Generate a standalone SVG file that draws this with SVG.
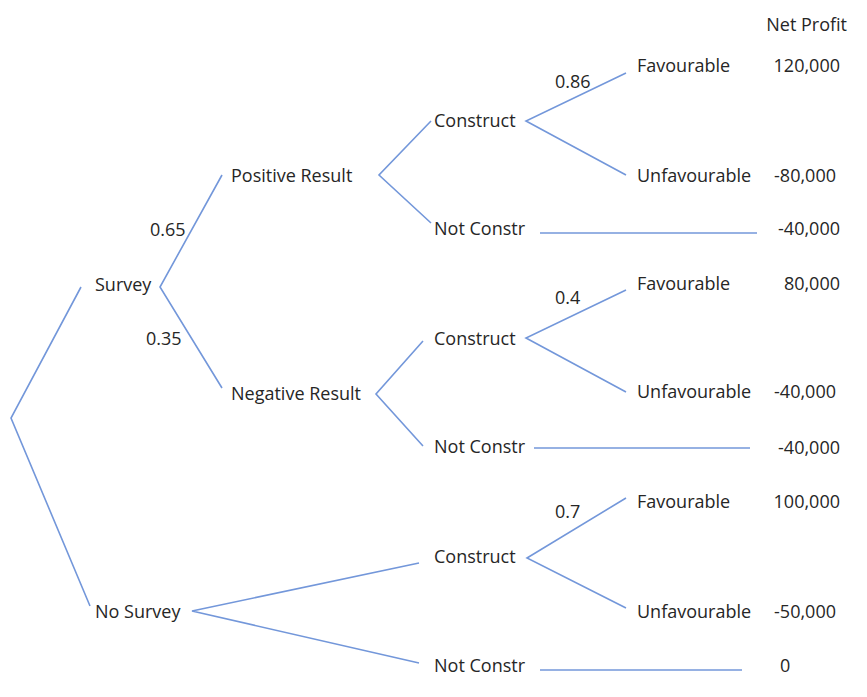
<svg xmlns="http://www.w3.org/2000/svg" width="867" height="697" viewBox="0 0 867 697">
<style>
text{font-family:"Open Sans","Liberation Sans",sans-serif;font-size:18px;fill:#262626}
.e{text-anchor:end}
#connectors line,#connectors polyline{stroke:#7397DA;stroke-width:1.6;fill:none}
</style>
<rect width="867" height="697" fill="#fff"/>
<g id="connectors">
<polyline points="81,287 11,418 90,606"/>
<polyline points="222,175 160,287 222,388"/>
<polyline points="431,121 379,175 431,223"/>
<polyline points="626,73 526,121 626,175"/>
<line x1="540" y1="233" x2="757" y2="233"/>
<polyline points="423,341 376,394 423,446"/>
<polyline points="626,290 526,338 626,392"/>
<line x1="534" y1="448" x2="750" y2="448"/>
<polyline points="419,563 192,611 419,663"/>
<polyline points="626,498 527,558 626,608"/>
<line x1="540" y1="670" x2="742" y2="670"/>
</g>
<g id="header"><text class="e" x="847" y="31">Net Profit</text></g>
<g id="survey"><text x="95" y="291">Survey</text></g>
<g id="p065"><text x="150" y="236">0.65</text></g>
<g id="p035"><text x="146" y="345">0.35</text></g>
<g id="positive"><text x="231" y="182">Positive Result</text></g>
<g id="negative"><text x="231" y="400">Negative Result</text></g>
<g id="nosurvey"><text x="95" y="618">No Survey</text></g>
<g id="pos-construct"><text x="434" y="127">Construct</text></g>
<g id="pos-notconstr"><text x="434" y="235">Not Constr</text></g>
<g id="p086"><text x="555" y="88">0.86</text></g>
<g id="pos-fav"><text x="637" y="72">Favourable</text><text class="e" x="840" y="72">120,000</text></g>
<g id="pos-unfav"><text x="637" y="182">Unfavourable</text><text class="e" x="836" y="182">-80,000</text></g>
<g id="pos-nc-val"><text class="e" x="840" y="235">-40,000</text></g>
<g id="neg-construct"><text x="434" y="345">Construct</text></g>
<g id="neg-notconstr"><text x="434" y="453">Not Constr</text></g>
<g id="p04"><text x="555" y="304">0.4</text></g>
<g id="neg-fav"><text x="637" y="290">Favourable</text><text class="e" x="840" y="290">80,000</text></g>
<g id="neg-unfav"><text x="637" y="398">Unfavourable</text><text class="e" x="836" y="398">-40,000</text></g>
<g id="neg-nc-val"><text class="e" x="840" y="454">-40,000</text></g>
<g id="ns-construct"><text x="434" y="563">Construct</text></g>
<g id="ns-notconstr"><text x="434" y="672">Not Constr</text></g>
<g id="p07"><text x="555" y="518">0.7</text></g>
<g id="ns-fav"><text x="637" y="508">Favourable</text><text class="e" x="840" y="508">100,000</text></g>
<g id="ns-unfav"><text x="637" y="618">Unfavourable</text><text class="e" x="836" y="618">-50,000</text></g>
<g id="ns-nc-val"><text x="780" y="672">0</text></g>
</svg>
